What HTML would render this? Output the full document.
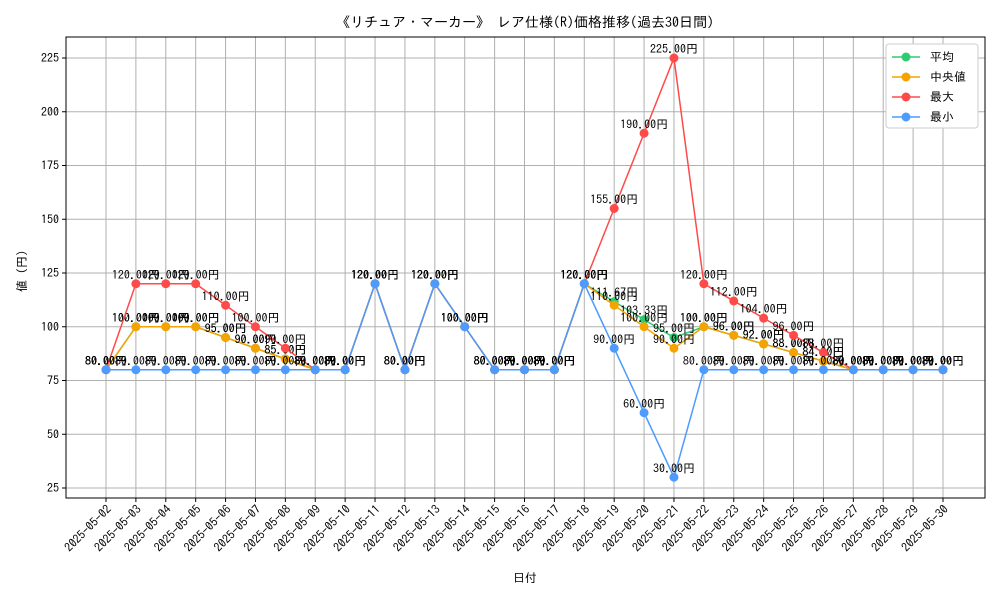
<!DOCTYPE html>
<html><head><meta charset="utf-8"><style>
body{margin:0;background:#fff;font-family:"IPAGothic","Liberation Sans",sans-serif}
svg text{font-family:"IPAGothic","Noto Sans CJK JP",sans-serif}
</style></head><body>
<svg id="c" width="1000" height="600" xmlns="http://www.w3.org/2000/svg">
<rect width="1000" height="600" fill="#fff"/>
<text x="525" y="27" font-size="14" text-anchor="middle">《リチュア・マーカー》 レア仕様(R)価格推移(過去30日間)</text>
<g id="grid"></g>
<g id="series"></g>
<rect x="66" y="37" width="919" height="461" fill="none" stroke="#000" stroke-width="1"/>
<g id="axes"></g>
<text x="525" y="582" font-size="12" text-anchor="middle">日付</text>
<text x="26" y="268" font-size="12" text-anchor="middle" transform="rotate(-90 26 268)">値（円）</text>
<g id="legend"></g>
</svg>
<script>
const dates=["2025-05-02","2025-05-03","2025-05-04","2025-05-05","2025-05-06","2025-05-07","2025-05-08","2025-05-09","2025-05-10","2025-05-11","2025-05-12","2025-05-13","2025-05-14","2025-05-15","2025-05-16","2025-05-17","2025-05-18","2025-05-19","2025-05-20","2025-05-21","2025-05-22","2025-05-23","2025-05-24","2025-05-25","2025-05-26","2025-05-27","2025-05-28","2025-05-29","2025-05-30"];
const avgVals=[80,100,100,100,95,90,85,80,80,120,80,120,100,80,80,80,120,111.67,103.33,95,100,96,92,88,84,80,80,80,80];
const medianVals=[80,100,100,100,95,90,85,80,80,120,80,120,100,80,80,80,120,110,100,90,100,96,92,88,84,80,80,80,80];
const maxVals=[80,120,120,120,110,100,90,80,80,120,80,120,100,80,80,80,120,155,190,225,120,112,104,96,88,80,80,80,80];
const minVals=[80,80,80,80,80,80,80,80,80,120,80,120,100,80,80,80,120,90,60,30,80,80,80,80,80,80,80,80,80];
const yTicks=[25,50,75,100,125,150,175,200,225];
const seriesNames=["平均","中央値","最大","最小"];
const NS="http://www.w3.org/2000/svg";
function xs(i){return 106+i*(943-106)/(dates.length-1);}
function ys(v){return 488-(v-25)*(430/200);}
function mk(t,a,p){const e=document.createElementNS(NS,t);for(const k in a)e.setAttribute(k,a[k]);p.appendChild(e);return e;}
const grid=document.getElementById('grid'),axes=document.getElementById('axes'),sg=document.getElementById('series'),lg=document.getElementById('legend');
dates.forEach((d,i)=>{
 const x=xs(i);
 const l=mk('line',{x1:x,x2:x,y1:37,y2:498,stroke:'#b0b0b0','stroke-width':1},grid);
 
 
 mk('line',{x1:x,x2:x,y1:498,y2:502,stroke:'#000'},axes);
 const t=mk('text',{x:x+6,y:510,'font-size':12,'text-anchor':'end',transform:`rotate(-45 ${x+6} 510)`},axes);
 t.textContent=d;
 
 
});
yTicks.forEach(v=>{
 const y=ys(v);
 const l=mk('line',{x1:66,x2:985,y1:y,y2:y,stroke:'#b0b0b0','stroke-width':1},grid);
 
 
 mk('line',{x1:62,x2:66,y1:y,y2:y,stroke:'#000'},axes);
 const t=mk('text',{x:59,y:y+4,'font-size':12,'text-anchor':'end'},axes);
 t.textContent=v;
 
 
});
const allSeries=[[avgVals,'#2ecc71','series-average'],[medianVals,'#f5a300','series-median'],[maxVals,'#ff4a4a','series-max'],[minVals,'#4d9bff','series-min']];
allSeries.forEach(([vals,col,name])=>{
 const g=mk('g',{},sg);
 
 
 const pl=mk('polyline',{points:vals.map((v,i)=>xs(i)+','+ys(v)).join(' '),fill:'none',stroke:col,'stroke-width':1.5},g);
 
 
 vals.forEach((v,i)=>{
  const c=mk('circle',{cx:xs(i),cy:ys(v),r:4.5,fill:col},g);
  
  
  const t=mk('text',{x:xs(i),y:ys(v)-5,'font-size':12,'text-anchor':'middle'},g);
  t.textContent=v.toFixed(2)+'円';
  
  
 });
});
mk('rect',{x:886,y:44,width:92,height:84,fill:'#fff',stroke:'#ccc',rx:3},lg);
allSeries.forEach(([v,col],i)=>{
 const y=57+i*20;
 const e=mk('g',{},lg);
 
 
 mk('line',{x1:892,x2:920,y1:y,y2:y,stroke:col,'stroke-width':1.5},e);
 mk('circle',{cx:906,cy:y,r:4.5,fill:col},e);
 const t=mk('text',{x:930,y:y+4,'font-size':12},e);
 t.textContent=(i==1?' ':'')+seriesNames[i];
});
</script>
</body></html>
